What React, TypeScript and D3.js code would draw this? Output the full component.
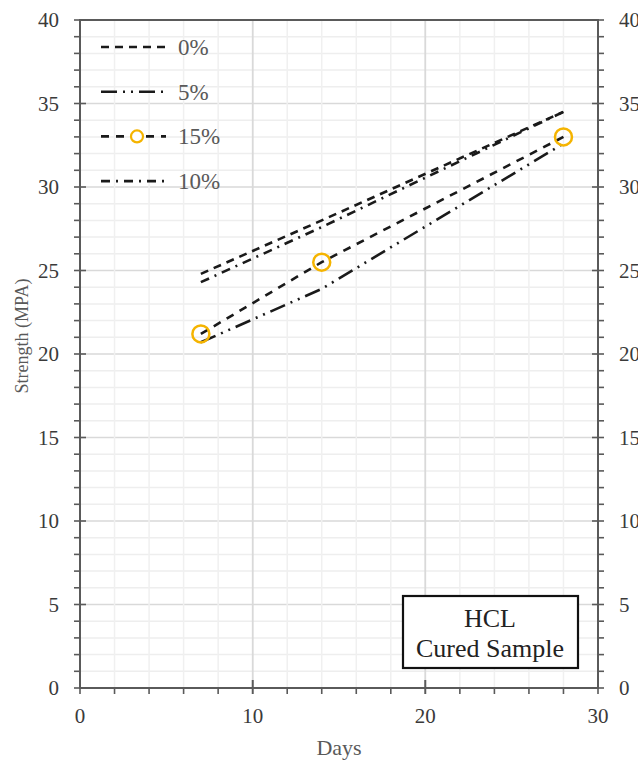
import React, { useEffect, useRef } from 'react';
import * as d3 from 'd3';

// data
const days = [7, 14, 28];
const series0 = [24.8, 28.0, 34.5];
const series5 = [20.7, 23.9, 32.6];
const series15 = [21.2, 25.5, 33.0];
const series10 = [24.3, 27.6, 34.5];
const legendLabels = ['0%', '5%', '15%', '10%'];
const xTicks = [0, 10, 20, 30];
const yTicks = [0, 5, 10, 15, 20, 25, 30, 35, 40];

const App = () => {
    const svgRef = useRef<SVGSVGElement>(null);

    useEffect(() => {
        const width = 638;
        const height = 765;
        const margin = { left: 80, right: 40, top: 20, bottom: 77 };
        const svg = d3.select(svgRef.current);
        svg.selectAll('*').remove();

        const x = d3.scaleLinear().domain([0, 30]).range([margin.left, width - margin.right]);
        const y = d3.scaleLinear().domain([0, 40]).range([height - margin.bottom, margin.top]);
        const font = '"Liberation Serif", "Times New Roman", serif';
        const axisColor = '#5a5a5a';

        svg.append('rect')
           .attr('width', width).attr('height', height).attr('fill', 'white');

        // grid
        const grid = svg.append('g');
        d3.range(0, 41, 1).forEach(v => {
            grid.append('line')
                .attr('x1', x(0)).attr('x2', x(30))
                .attr('y1', y(v)).attr('y2', y(v))
                .attr('stroke', v % 5 === 0 ? '#d9d9d9' : '#eeeeee')
                .attr('stroke-width', 1.5);
        });
        d3.range(0, 31, 2).concat([10, 20]).forEach(v => {
            grid.append('line')
                .attr('x1', x(v)).attr('x2', x(v))
                .attr('y1', y(0)).attr('y2', y(40))
                .attr('stroke', v % 10 === 0 ? '#d9d9d9' : '#f0f0f0')
                .attr('stroke-width', 1.5);
        });

        // frame
        svg.append('rect')
           .attr('x', x(0)).attr('y', y(40))
           .attr('width', x(30) - x(0)).attr('height', y(0) - y(40))
           .attr('fill', 'none').attr('stroke', axisColor).attr('stroke-width', 2);

        const ticks = svg.append('g').attr('stroke', axisColor).attr('stroke-width', 1.6);
        // y ticks, left and right
        d3.range(0, 41, 1).forEach(v => {
            const major = v % 5 === 0;
            ticks.append('line')
                 .attr('x1', x(0) - 6).attr('x2', major ? x(0) + 6 : x(0))
                 .attr('y1', y(v)).attr('y2', y(v));
            ticks.append('line')
                 .attr('x1', major ? x(30) - 6 : x(30)).attr('x2', x(30) + 6)
                 .attr('y1', y(v)).attr('y2', y(v));
        });
        // x ticks
        d3.range(0, 31, 2).concat([10, 20]).forEach(v => {
            const major = v % 10 === 0;
            ticks.append('line')
                 .attr('x1', x(v)).attr('x2', x(v))
                 .attr('y1', y(0) + 6).attr('y2', major ? y(0) - 8 : y(0));
        });

        const labels = svg.append('g')
                          .style('font-family', font).style('font-size', '21px').attr('fill', '#3a3a3a');
        yTicks.forEach(v => {
            labels.append('text').attr('x', x(0) - 21).attr('y', y(v) + 7)
                  .attr('text-anchor', 'end').text(v);
            labels.append('text').attr('x', x(30) + 21).attr('y', y(v) + 7)
                  .attr('text-anchor', 'start').text(v);
        });
        xTicks.forEach(v => {
            labels.append('text').attr('x', x(v)).attr('y', y(0) + 35)
                  .attr('text-anchor', 'middle').text(v);
        });

        svg.append('text')
           .attr('transform', `translate(28, ${(y(0) + y(40)) / 2 - 18}) rotate(-90)`)
           .attr('text-anchor', 'middle')
           .style('font-family', font).style('font-size', '18px').attr('fill', '#595959')
           .text('Strength (MPA)');
        svg.append('text')
           .attr('x', (x(0) + x(30)) / 2).attr('y', 755)
           .attr('text-anchor', 'middle')
           .style('font-family', font).style('font-size', '22px').attr('fill', '#595959')
           .text('Days');

        // series
        const styles = [
            { values: series0, dash: '8,6', marker: false },
            { values: series5, dash: '16,6,2,6,2,6', marker: false },
            { values: series15, dash: '8,7', marker: true },
            { values: series10, dash: '9,6,2,6', marker: false },
        ];
        const line = d3.line<[number, number]>().x(d => x(d[0])).y(d => y(d[1]));
        styles.forEach(s => {
            const pts = days.map((d, i) => [d, s.values[i]] as [number, number]);
            svg.append('path')
               .attr('d', line(pts))
               .attr('fill', 'none').attr('stroke', '#1a1a1a')
               .attr('stroke-width', 2.6).attr('stroke-dasharray', s.dash);
            if (s.marker) {
                svg.selectAll('.mk')
                   .data(pts).join('circle')
                   .attr('cx', d => x(d[0])).attr('cy', d => y(d[1]))
                   .attr('r', 8.5).attr('fill', 'none')
                   .attr('stroke', '#f5b400').attr('stroke-width', 2.5);
            }
        });

        // legend
        const legend = svg.append('g');
        styles.forEach((s, i) => {
            const ly = 47 + i * 44.7;
            legend.append('line')
                  .attr('x1', 101).attr('x2', 166).attr('y1', ly).attr('y2', ly)
                  .attr('stroke', '#1a1a1a').attr('stroke-width', 2.6)
                  .attr('stroke-dasharray', s.dash);
            if (s.marker) {
                legend.append('circle').attr('cx', 137).attr('cy', ly).attr('r', 6)
                      .attr('fill', 'white').attr('stroke', '#f5b400').attr('stroke-width', 2.2);
            }
            legend.append('text').attr('x', 178).attr('y', ly + 8)
                  .style('font-family', font).style('font-size', '23px').attr('fill', '#595959')
                  .text(legendLabels[i]);
        });

        // annotation box
        const box = svg.append('g');
        box.append('rect')
           .attr('x', 403).attr('y', 596).attr('width', 175).attr('height', 72)
           .attr('fill', 'white').attr('stroke', '#111').attr('stroke-width', 2.2);
        box.append('text').attr('x', 490).attr('y', 627).attr('text-anchor', 'middle')
           .style('font-family', font).style('font-size', '26px').attr('fill', '#222')
           .text('HCL');
        box.append('text').attr('x', 490).attr('y', 657).attr('text-anchor', 'middle')
           .style('font-family', font).style('font-size', '26px').attr('fill', '#222')
           .text('Cured Sample');
    }, []);

    return (
        <svg ref={svgRef} width={638} height={765}
             style={{ position: 'absolute', left: 0, top: 0 }}></svg>
    );
};

export default App;
